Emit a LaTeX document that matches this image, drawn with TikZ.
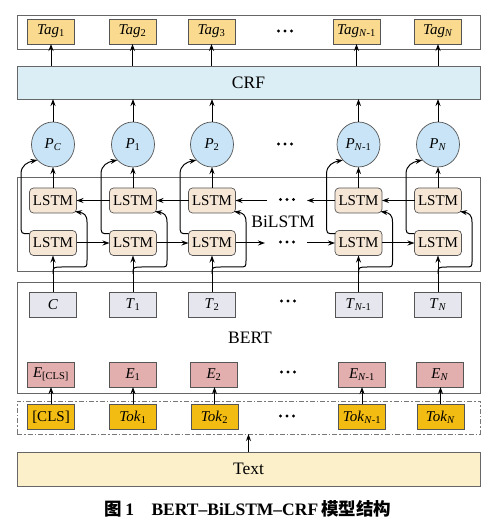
\documentclass[tikz,border=0pt]{standalone}
\usepackage{fontspec}
\setmainfont{Liberation Serif}
\newfontfamily\cjk{Noto Sans CJK SC}
\usetikzlibrary{shapes.geometric,arrows.meta,calc}
\definecolor{tagc}{HTML}{F9DA8E}
\definecolor{crfc}{HTML}{DCEEF5}
\definecolor{pc}{HTML}{C8E4F6}
\definecolor{lstmc}{HTML}{F6E6D6}
\definecolor{tc}{HTML}{E6E6EF}
\definecolor{ec}{HTML}{E2AEAE}
\definecolor{tokc}{HTML}{F3BC12}
\definecolor{textc}{HTML}{FCF0CB}
\definecolor{edge}{HTML}{555555}
\newcommand\threedots{\tikz[baseline=-0.5ex]{\foreach \k in {0,1,2} \fill (\k*6.5pt,0) circle (1.6pt);}}
\begin{document}
\begin{tikzpicture}[x=1pt,y=1pt,
  font=\fontsize{15}{17}\selectfont,
  outer/.style={draw=edge!90, line width=0.9pt, minimum width=463pt, inner sep=0pt, outer sep=0pt},
  cell/.style={draw=edge, line width=0.7pt, minimum width=47pt, minimum height=25pt, inner sep=0pt, outer sep=0pt},
  tagbox/.style={cell, fill=tagc},
  lstmbox/.style={cell, fill=lstmc, rounded corners=4pt},
  tbox/.style={cell, fill=tc},
  ebox/.style={cell, fill=ec},
  tokbox/.style={cell, fill=tokc},
  pnode/.style={ellipse, draw=edge, line width=0.7pt, fill=pc, minimum width=43pt, minimum height=45pt, inner sep=0pt, outer sep=0pt},
  biglab/.style={font=\fontsize{17.5}{20}\selectfont},
  arr/.style={-{Stealth[length=7pt,width=5pt]}, line width=1pt, black},
  dotsnode/.style={inner sep=0pt}
]
\useasboundingbox (0,0) rectangle (500,526);

% containers
\node[outer, minimum height=34pt] (tagrow) at (248.5,494) {};
\node[outer, minimum height=33pt, fill=crfc, biglab] (crf) at (248.5,443.5) {CRF};
\node[outer, minimum height=94pt] (bil) at (248.5,302) {};
\node[outer, minimum height=111pt] (bert) at (248.5,188.5) {};
\node[outer, minimum height=33pt, draw=edge!80, dash pattern=on 5pt off 2pt on 1.5pt off 2pt] (tokrow) at (248.5,108.5) {};
\node[outer, minimum height=34pt, fill=textc, biglab] (text) at (248.5,57) {Text};

% labels
\node[biglab] (bilab) at (283,304) {BiLSTM};
\node[biglab] (bertlab) at (250,188) {BERT};

% tags
\foreach \i/\x/\s in {1/51/1, 2/132.5/2, 3/211.5/3, 4/356.5/{\textit{N}-1}, 5/438/{\textit{N}}}
  \node[tagbox] (tag\i) at (\x,494.5) {\textit{Tag}\textsubscript{\s}};
\node[dotsnode] (dtag) at (285,494) {\threedots};

% P circles, LSTMs, T boxes
\foreach \i/\x/\s in {1/53/{\textit{C}}, 2/133/1, 3/212/2, 4/358.5/{\textit{N}-1}, 5/438/{\textit{N}}}{
  \node[pnode] (p\i) at (\x,381.5) {\textit{P}\textsubscript{\s}};
  \node[lstmbox] (u\i) at (\x,325.5) {LSTM};
  \node[lstmbox] (l\i) at (\x,283) {LSTM};
}
\foreach \i/\x/\s in {1/53/{\textit{C}}, 2/133/{\textit{T}\textsubscript{1}}, 3/212/{\textit{T}\textsubscript{2}}, 4/358.5/{\textit{T}\textsubscript{\textit{N}-1}}, 5/438/{\textit{T}\textsubscript{\textit{N}}}}
  \node[tbox] (t\i) at (\x,221.5) {\s};
\node[dotsnode] (dp) at (285,381) {\threedots};
\node[dotsnode] (dt) at (288,224) {\threedots};

% E boxes and tokens
\foreach \i/\x/\s in {1/51/{[CLS]}, 2/133/1, 3/214/2, 4/362/{\textit{N}-1}, 5/440/{\textit{N}}}
  \node[ebox] (e\i) at (\x,151.5) {\textit{E}\textsubscript{\s}};
\node[dotsnode] (de) at (288,153) {\threedots};
\node[tokbox] (k1) at (51,109) {[CLS]};
\foreach \i/\x/\s in {2/133/1, 3/214.5/2, 4/362/{\textit{N}-1}, 5/440.5/{\textit{N}}}
  \node[tokbox] (k\i) at (\x,109) {\textit{Tok}\textsubscript{\s}};
\node[dotsnode] (dk) at (287,109) {\threedots};

% BiLSTM row dots
\node[dotsnode] (du) at (287,325.5) {\threedots};
\node[dotsnode] (dl) at (287,283) {\threedots};
\coordinate (ua) at (267,325.5);
\coordinate (ub) at (307,325.5);
\coordinate (la) at (265,283);
\coordinate (lb) at (307,283);

% vertical arrows
\foreach \i in {1,...,5}{
  \draw[arr] (tag\i |- crf.north) -- (tag\i.south);
  \draw[arr] (p\i.north) -- (p\i |- crf.south);
  \draw[arr] (u\i.north) -- (p\i.south);
  \draw[arr] (t\i.north) -- (l\i.south);
  \draw[arr] (k\i.north) -- (k\i |- e\i.south);
}
\draw[arr] (text.north) -- (text.north |- tokrow.south);

% horizontal LSTM arrows
\draw[arr] (l1.east) -- (l2.west);
\draw[arr] (l2.east) -- (l3.west);
\draw[arr] (l3.east) -- (la);
\draw[arr] (lb) -- (l4.west);
\draw[arr] (l4.east) -- (l5.west);
\draw[arr] (u2.west) -- (u1.east);
\draw[arr] (u3.west) -- (u2.east);
\draw[arr] (ua) -- (u3.east);
\draw[arr] (u4.west) -- (ub);
\draw[arr] (u5.west) -- (u4.east);

% curved connectors
\foreach \i/\x in {1/53,2/133,3/212,4/358.5,5/438}{
  \coordinate (br\i) at (\x,252);
  \draw[arr] (br\i) .. controls (\x,259) .. (\x+10,259) -- (\x+27,259)
     .. controls (\x+34,259) .. (\x+34,266) -- (\x+34,304)
     .. controls (\x+34,311) and (\x+31,313) .. ($(u\i.south east)+(-1.5,1.5)$);
  \draw[arr] ($(l\i.north west)+(0,-3)$) .. controls (\x-32,292) .. (\x-32,302) -- (\x-32,352)
     .. controls (\x-32,361) and (\x-25,364) .. (p\i.225);
}

% caption
\node[font=\fontsize{17.5}{20}\selectfont\bfseries] (cap) at (248,17) {{\cjk 图}\,1\quad BERT–BiLSTM–CRF\,{\cjk 模型结构}};
\end{tikzpicture}
\end{document}
